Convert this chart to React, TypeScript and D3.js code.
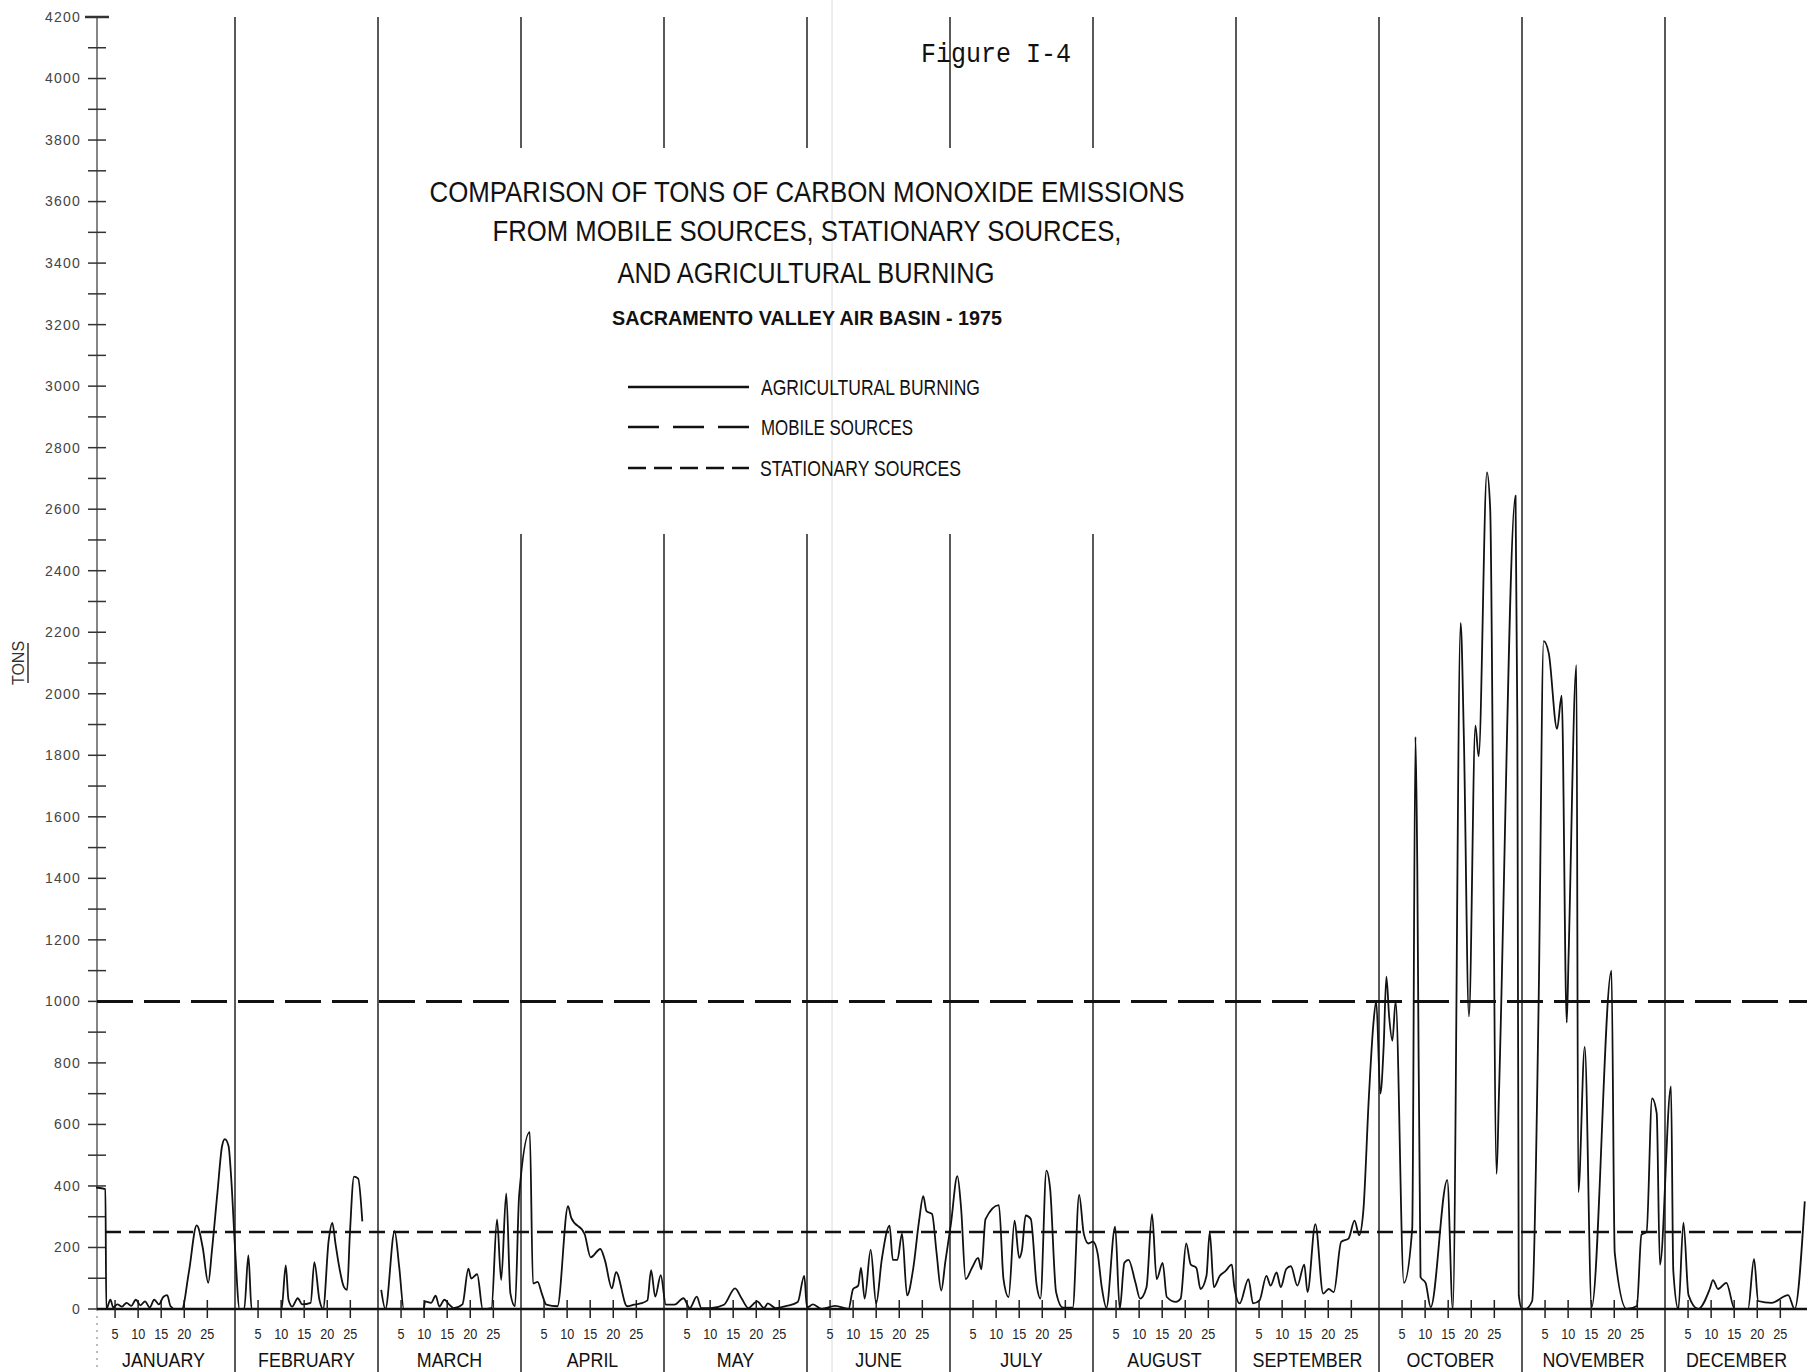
import React from 'react';
import * as d3 from 'd3';

const W = 1807;
const H = 1372;

const monthNames = ['JANUARY', 'FEBRUARY', 'MARCH', 'APRIL', 'MAY', 'JUNE', 'JULY', 'AUGUST', 'SEPTEMBER', 'OCTOBER', 'NOVEMBER', 'DECEMBER'];
const dayTicks = [5, 10, 15, 20, 25];
const yTickValues = d3.range(0, 4201, 100);
const yLabelValues = d3.range(0, 4201, 200);
const mobileTons = 1000;
const stationaryTons = 250;

const titleLines = [
  'COMPARISON OF TONS OF CARBON MONOXIDE EMISSIONS',
  'FROM MOBILE SOURCES, STATIONARY SOURCES,',
  'AND AGRICULTURAL BURNING',
];
const subtitle = 'SACRAMENTO VALLEY AIR BASIN - 1975';
const figureLabel = 'Figure I-4';
const legendLabels = ['AGRICULTURAL BURNING', 'MOBILE SOURCES', 'STATIONARY SOURCES'];

// Agricultural burning, [day of month, tons]
const burnJan = [[0.9, 395], [2.9, 390], [3.1, 0], [4, 30], [4.6, 5], [5.5, 15], [6.5, 8], [7.5, 20], [8.5, 10], [9.5, 30], [10.5, 12], [11.5, 25], [12.5, 5], [13.5, 30], [14.5, 15], [15.5, 40], [16.3, 45], [17, 10], [18, 0], [19.5, 0], [21, 120], [22.7, 272], [24, 200], [25.2, 85], [26, 190], [27.2, 380], [28.2, 530], [28.8, 552], [29.6, 530], [30.2, 420], [31, 200]];
const burnFeb = [[1, 0], [2, 0], [2.9, 174], [3.6, 0], [10.1, 0], [11, 142], [11.6, 30], [12.4, 8], [13.6, 35], [14.6, 15], [16.4, 20], [17.2, 152], [18.3, 30], [19.1, 0], [20.3, 222], [21.1, 280], [21.8, 211], [22.6, 136], [23.6, 72], [24.3, 62], [24.9, 243], [25.8, 430], [26.7, 424], [27.6, 285]];
const burnMar = [[0.7, 62], [1.6, 0], [3.6, 253], [4.6, 136], [5.6, 0], [9.9, 0], [10.2, 25], [11.5, 20], [12.5, 43], [13.3, 8], [14.4, 30], [15.4, 15], [16.4, 3], [18.3, 15], [19.6, 131], [20.2, 99], [21.5, 113], [22.7, 0], [24.6, 3], [25.8, 291], [26.7, 94], [27.8, 376], [28.7, 51], [29.7, 9], [30.6, 370]];
const burnApr = [[1.9, 575], [2.6, 83], [3.6, 88], [4.5, 51], [5.5, 14], [7.9, 9], [10.2, 334], [10.9, 296], [13.8, 243], [15.1, 168], [17.2, 195], [18.2, 158], [19.7, 67], [20.6, 120], [23, 9], [24.5, 14], [25.9, 18], [27.4, 28], [28.2, 126], [29.1, 40], [30.3, 110]];
const burnMay = [[0.4, 14], [2.3, 14], [4.2, 35], [5.6, 3], [7.1, 40], [8.1, 3], [10.1, 3], [13, 14], [15.4, 67], [16.8, 35], [18.3, 3], [20.2, 25], [21.7, 3], [22.5, 18], [24.2, 3], [26.6, 10], [29, 23], [30.4, 108], [31, 5]];
const burnJun = [[1.3, 15], [3.2, 0], [6.1, 10], [9, 0], [10, 65], [11.1, 76], [11.7, 134], [12.5, 34], [13.8, 192], [15, 18], [16.2, 160], [17.9, 271], [18.6, 160], [19.6, 160], [20.6, 245], [21.7, 44], [23, 129], [24.3, 287], [25.2, 367], [25.9, 318], [27.1, 309], [28.1, 181], [29.1, 60], [30, 155]];
const burnJul = [[0.2, 277], [1.6, 432], [2.4, 329], [3.4, 97], [4.8, 135], [6.1, 166], [6.8, 129], [7.7, 292], [10.6, 338], [11.6, 97], [12.7, 39], [14, 287], [15, 166], [15.6, 192], [16.4, 304], [17.5, 293], [18.8, 76], [19.6, 34], [20.9, 450], [21.7, 392], [23, 55], [24.5, 4], [26.6, 4], [28, 371], [29, 245], [30, 213], [31, 219]];
const burnAug = [[1, 181], [1.9, 71], [2.9, 4], [4.8, 268], [5.8, 0], [6.8, 150], [7.7, 160], [9.2, 86], [10.2, 34], [11.6, 71], [12.8, 308], [13.8, 97], [15.1, 150], [16, 39], [18, 23], [19, 34], [20.2, 213], [21.2, 144], [22.4, 134], [23.3, 65], [24.6, 108], [25.3, 250], [26.2, 71], [27.5, 108], [28.7, 123], [30.1, 144], [30.6, 76]];
const burnSep = [[0.8, 18], [2.7, 97], [3.7, 18], [5.1, 28], [6.6, 108], [7.5, 76], [8.8, 119], [9.7, 71], [10.9, 130], [11.9, 139], [13.3, 76], [14.8, 144], [15.5, 55], [17.2, 276], [18.9, 50], [20.1, 65], [21.2, 55], [22.8, 218], [24.4, 229], [25.7, 287], [26.7, 240], [27.6, 318], [28.8, 688], [29.8, 930], [30.4, 1000]];
const burnOct = [[0.3, 700], [1, 850], [1.6, 1080], [2.2, 950], [2.9, 872], [3.6, 1000], [5.4, 85], [7.2, 262], [7.9, 1860], [8.3, 1440], [9, 104], [10.1, 85], [11.2, 6], [14.8, 419], [16, 0], [17.7, 2230], [18.4, 1856], [19.5, 951], [20.9, 1896], [21.6, 1797], [23.4, 2720], [24.1, 2604], [25.5, 439], [26, 695], [29.6, 2644], [30, 1896], [30.3, 45], [31, 0]];
const burnNov = [[0.7, 0], [2.2, 26], [3.6, 990], [4.7, 2171], [5.8, 2132], [7.6, 1886], [8.6, 1994], [9.7, 931], [10.1, 1148], [11.8, 2093], [12.2, 380], [13.6, 852], [15.1, 6], [19.4, 1100], [20.1, 183], [22.7, 0], [24.9, 10], [25.9, 242], [27, 250], [28.2, 685], [29.2, 636], [29.9, 144]];
const burnDec = [[1.3, 724], [1.8, 124], [2.9, 0], [4, 281], [5.1, 45], [7.2, 0], [9.7, 65], [10.4, 94], [11.5, 65], [13.3, 85], [15.1, 0], [18, 0], [19.3, 163], [20.2, 26], [23.1, 20], [26.7, 45], [28.1, 0], [30.3, 350]];

const burnByMonth = [burnJan, burnFeb, burnMar, burnApr, burnMay, burnJun, burnJul, burnAug, burnSep, burnOct, burnNov, burnDec];
const breakAfterMonth = [1];

const FONT = 'Liberation Sans, Arial, sans-serif';

export default function App() {
  const x = d3.scaleLinear().domain([0, 12]).range([92, 1808]);
  const y = d3.scaleLinear().domain([0, 4200]).range([1309, 17]);
  const xd = (m: number, d: number) => x(m + d / 31);
  const axisX = 97;
  const base = y(0);

  const pts: ({ m: number; d: number; v: number } | null)[] = [];
  burnByMonth.forEach((arr, m) => {
    arr.forEach(([d, v]) => pts.push({ m, d, v }));
    if (breakAfterMonth.includes(m)) pts.push(null);
  });
  const line = d3
    .line<any>()
    .defined((p) => p !== null)
    .x((p) => xd(p.m, p.d))
    .y((p) => y(p.v))
    .curve(d3.curveMonotoneX);
  const burnPath = line(pts) || '';

  const gapMonths = [3, 4, 5, 6, 7];

  return (
    <svg width={W} height={H} style={{ position: 'absolute', left: 0, top: 0, background: '#fff' }} xmlns="http://www.w3.org/2000/svg">
      <rect x={0} y={0} width={W} height={H} fill="#fff" />
      {/* faint scan fold */}
      <line x1={832} x2={832} y1={0} y2={H} stroke="#dcdcdc" strokeWidth={1} />

      {/* month separator lines */}
      {d3.range(1, 12).map((m) =>
        gapMonths.includes(m) ? (
          <g key={m}>
            <line x1={x(m)} x2={x(m)} y1={17} y2={148} stroke="#222" strokeWidth={1.5} />
            <line x1={x(m)} x2={x(m)} y1={534} y2={H} stroke="#222" strokeWidth={1.5} />
          </g>
        ) : (
          <line key={m} x1={x(m)} x2={x(m)} y1={17} y2={H} stroke="#222" strokeWidth={1.5} />
        )
      )}

      {/* y axis */}
      <line x1={axisX} x2={axisX} y1={y(4200)} y2={base} stroke="#444" strokeWidth={1.3} />
      <line x1={axisX} x2={axisX} y1={base} y2={H} stroke="#777" strokeWidth={1} strokeDasharray="2 5" />
      {yTickValues.map((v) => (
        <line key={v} x1={axisX - (v === 4200 ? 12 : 9)} x2={axisX + (v === 4200 ? 12 : 9)} y1={y(v)} y2={y(v)} stroke="#333" strokeWidth={v === 4200 ? 2.5 : 1.5} />
      ))}
      {yLabelValues.map((v) => (
        <text key={v} x={81} y={y(v)} dy="0.35em" textAnchor="end" fontFamily={FONT} fontSize={14} letterSpacing={1.2} fill="#444">
          {v}
        </text>
      ))}
      <g transform={`translate(24, ${663}) rotate(-90)`}>
        <text x={0} y={0} textAnchor="middle" fontFamily={FONT} fontSize={16} fill="#333">
          TONS
        </text>
        <line x1={-20} x2={20} y1={4} y2={4} stroke="#333" strokeWidth={1.5} />
      </g>

      {/* x baseline */}
      <line x1={axisX} x2={W} y1={base} y2={base} stroke="#111" strokeWidth={2.5} />
      {monthNames.map((name, m) => (
        <g key={name}>
          {dayTicks.map((d) => (
            <g key={d}>
              <line x1={xd(m, d)} x2={xd(m, d)} y1={base - 9} y2={base + 9} stroke="#222" strokeWidth={1.5} />
              <g transform={`translate(${xd(m, d)}, 1339) scale(0.9,1)`}>
                <text x={0} y={0} textAnchor="middle" fontFamily={FONT} fontSize={14} fill="#222">
                  {d}
                </text>
              </g>
            </g>
          ))}
          <g transform={`translate(${x(m + 0.5)}, 1367) scale(0.85,1)`}>
            <text x={0} y={0} textAnchor="middle" fontFamily={FONT} fontSize={21} fill="#111">
              {name}
            </text>
          </g>
        </g>
      ))}

      {/* mobile and stationary sources */}
      <line x1={axisX} x2={W} y1={y(mobileTons)} y2={y(mobileTons)} stroke="#111" strokeWidth={3} strokeDasharray="36 11" />
      <line x1={axisX + 8} x2={W} y1={y(stationaryTons)} y2={y(stationaryTons)} stroke="#111" strokeWidth={2.5} strokeDasharray="16 8" />

      {/* agricultural burning */}
      <path d={burnPath} fill="none" stroke="#111" strokeWidth={1.8} strokeLinejoin="round" />

      {/* titles */}
      <text x={921} y={62} fontFamily="Liberation Mono, DejaVu Sans Mono, monospace" fontSize={27} textLength={150} lengthAdjust="spacingAndGlyphs" fill="#111">
        {figureLabel}
      </text>
      <text x={807} y={202} textAnchor="middle" fontFamily={FONT} fontSize={30} textLength={755} lengthAdjust="spacingAndGlyphs" fill="#111">
        {titleLines[0]}
      </text>
      <text x={807} y={241} textAnchor="middle" fontFamily={FONT} fontSize={30} textLength={629} lengthAdjust="spacingAndGlyphs" fill="#111">
        {titleLines[1]}
      </text>
      <text x={806} y={283} textAnchor="middle" fontFamily={FONT} fontSize={30} textLength={377} lengthAdjust="spacingAndGlyphs" fill="#111">
        {titleLines[2]}
      </text>
      <text x={807} y={325} textAnchor="middle" fontFamily={FONT} fontSize={21} fontWeight="bold" textLength={390} lengthAdjust="spacingAndGlyphs" fill="#111">
        {subtitle}
      </text>

      {/* legend */}
      <line x1={628} x2={749} y1={387} y2={387} stroke="#111" strokeWidth={2.5} />
      <text x={761} y={395} fontFamily={FONT} fontSize={22} textLength={219} lengthAdjust="spacingAndGlyphs" fill="#111">
        {legendLabels[0]}
      </text>
      <line x1={628} x2={749} y1={427} y2={427} stroke="#111" strokeWidth={2.5} strokeDasharray="31 14" />
      <text x={761} y={435} fontFamily={FONT} fontSize={22} textLength={152} lengthAdjust="spacingAndGlyphs" fill="#111">
        {legendLabels[1]}
      </text>
      <line x1={628} x2={749} y1={468} y2={468} stroke="#111" strokeWidth={2.5} strokeDasharray="18 8" />
      <text x={760} y={476} fontFamily={FONT} fontSize={22} textLength={201} lengthAdjust="spacingAndGlyphs" fill="#111">
        {legendLabels[2]}
      </text>
    </svg>
  );
}
